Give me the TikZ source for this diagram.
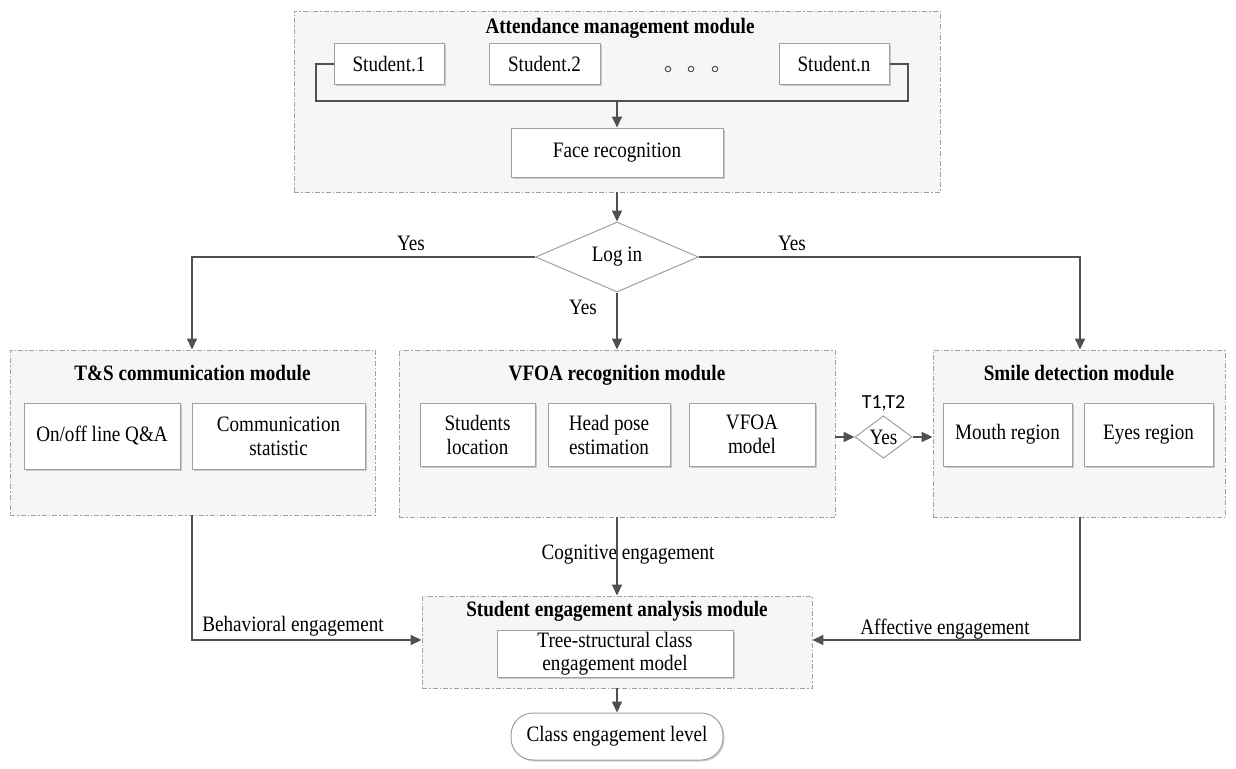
\documentclass[tikz,border=0pt]{standalone}
\usepackage{fontspec}
\setmainfont{Liberation Serif}[FakeStretch=0.87]
\newfontfamily\calfont{Carlito}
\usetikzlibrary{shapes.geometric,arrows.meta,shadows}
\definecolor{lnc}{HTML}{505050}
\definecolor{bdc}{HTML}{A0A0A0}
\definecolor{modfill}{HTML}{F6F6F6}
\tikzset{
  module/.style={draw=bdc, line width=0.9pt, dash pattern=on 5pt off 2pt on 1.5pt off 2pt, fill=modfill, inner sep=0pt},
  boxx/.style={draw=bdc, line width=1pt, fill=white, inner sep=2pt, align=center, font=\fontsize{22}{24}\selectfont,
    drop shadow={shadow xshift=1.5pt, shadow yshift=-1.5pt, fill=black, opacity=0.18}},
  ttl/.style={font=\bfseries\fontsize{22}{24}\selectfont, inner sep=0pt, anchor=base},
  lbl/.style={font=\fontsize{22}{24}\selectfont, inner sep=0pt, anchor=base},
  conn/.style={draw=lnc, line width=1.7pt},
  arr/.style={conn, -{Triangle[length=11pt,width=10pt]}},
  dmd/.style={diamond, draw=bdc, line width=1pt, fill=white, inner sep=0pt, font=\fontsize{22}{24}\selectfont},
}
\begin{document}
\begin{tikzpicture}[x=1pt,y=-1pt]
\useasboundingbox (0,0) rectangle (1236,768);
\fill[white] (0,0) rectangle (1236,768);

% Attendance module
\node[module, minimum width=646pt, minimum height=181pt] (att) at (617,101.5) {};
\node[ttl] (attt) at (620,34) {Attendance management module};
\node[boxx, minimum width=110pt, minimum height=40pt] (s1) at (389,64) {Student.1};
\node[boxx, minimum width=111pt, minimum height=40pt] (s2) at (544.5,64) {Student.2};
\node[boxx, minimum width=110pt, minimum height=40pt] (sn) at (834,64) {Student.n};
\node[circle, draw=lnc, line width=1pt, inner sep=0pt, minimum size=5.5pt] (d1) at (668,69) {};
\node[circle, draw=lnc, line width=1pt, inner sep=0pt, minimum size=5.5pt] (d2) at (691,69) {};
\node[circle, draw=lnc, line width=1pt, inner sep=0pt, minimum size=5.5pt] (d3) at (715,69) {};
\node[boxx, minimum width=212pt, minimum height=49pt] (face) at (617,152.5) {Face recognition};
\coordinate (bl) at (316,101);
\coordinate (br) at (908,101);
\coordinate (bm) at (617,101);
\draw[conn] (s1.west) -| (bl) -- (br) |- (sn.east);
\draw[arr] (bm) -- (face.north);

% Log in
\node[dmd, minimum width=163pt, minimum height=70pt] (login) at (617,257) {Log in};
\draw[arr] (att.south) -- (login.north);

% T&S module
\node[module, minimum width=365pt, minimum height=165pt] (ts) at (192.5,432.5) {};
\node[ttl] (tst) at (192.5,380) {T\&S communication module};
\node[boxx, minimum width=156pt, minimum height=66pt] (qa) at (102,436) {On/off line Q\&A};
\node[boxx, minimum width=173pt, minimum height=66pt] (cs) at (278.5,436) {Communication\\statistic};

% VFOA module
\node[module, minimum width=436pt, minimum height=167pt] (vf) at (617,433.5) {};
\node[ttl] (vft) at (617,380) {VFOA recognition module};
\node[boxx, minimum width=115pt, minimum height=63pt] (sl) at (477.5,434.5) {Students\\location};
\node[boxx, minimum width=122pt, minimum height=63pt] (hp) at (609,434.5) {Head pose\\estimation};
\node[boxx, minimum width=126pt, minimum height=63pt] (vm) at (752,434.5) {VFOA\\model};

% Smile module
\node[module, minimum width=292pt, minimum height=167pt] (sm) at (1079,433.5) {};
\node[ttl] (smt) at (1079,380) {Smile detection module};
\node[boxx, minimum width=129pt, minimum height=63pt] (mr) at (1007.5,434.5) {Mouth region};
\node[boxx, minimum width=129pt, minimum height=63pt] (er) at (1148.5,434.5) {Eyes region};

% small diamond
\node[dmd, minimum width=57pt, minimum height=30pt] (y2) at (883.5,437) {Yes};
\node[font=\calfont\fontsize{20}{22}\selectfont, inner sep=0pt] (t12) at (883.5,403) {T1,T2};
\draw[arr] (vf.east |- y2.west) -- (y2.west);
\draw[arr] (y2.east) -- (sm.west |- y2.east);

% Login branches
\coordinate (lk) at (192,257);
\coordinate (rk) at (1080,257);
\draw[arr] (login.west) -- (lk) -- (lk |- ts.north);
\draw[arr] (login.east) -- (rk) -- (rk |- sm.north);
\draw[arr] (login.south) -- (vf.north);
\node[lbl] (yl) at (411,250) {Yes};
\node[lbl] (yr) at (792,250) {Yes};
\node[lbl] (ym) at (583,314) {Yes};

% Analysis module
\node[module, minimum width=390pt, minimum height=92pt] (an) at (617,642) {};
\node[ttl] (ant) at (617,616) {Student engagement analysis module};
\node[boxx, minimum width=236pt, minimum height=46pt, font=\fontsize{22}{23}\selectfont] (tree) at (615,654) {Tree-structural class\\engagement model};
\node[draw=bdc, line width=1pt, fill=white, rounded corners=22pt, minimum width=212pt, minimum height=47pt, font=\fontsize{22}{24}\selectfont,
  drop shadow={shadow xshift=1.5pt, shadow yshift=-1.5pt, fill=black, opacity=0.18}] (cel) at (617,736.5) {Class engagement level};

\node[lbl] (cog) at (628,559) {Cognitive engagement};
\node[lbl] (beh) at (293,631) {Behavioral engagement};
\node[lbl] (aff) at (945,634) {Affective engagement};

\coordinate (lb) at (192,640);
\coordinate (rb) at (1080,640);
\draw[arr] (ts.south -| lb) -- (lb) -- (an.west |- lb);
\draw[arr] (vf.south) -- (an.north);
\draw[arr] (sm.south -| rb) -- (rb) -- (an.east |- rb);
\draw[arr] (an.south) -- (cel.north);
\end{tikzpicture}
\end{document}
